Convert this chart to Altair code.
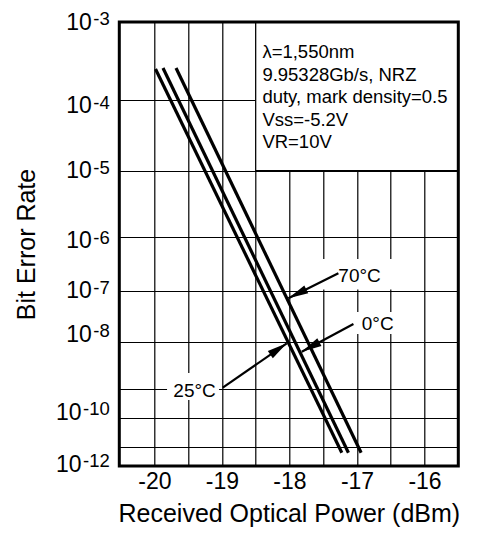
import altair as alt
import pandas as pd

FONT = "Liberation Sans"

# ---------------- data ----------------
# x axis (Received Optical Power, dBm)
x_grid = [-20, -19.5, -19, -18.5, -18, -17.5, -17, -16.5, -16]
x_domain = [-20.52, -15.5]

# y axis: BER = 10^-n ; printed decades and their relative spacing on the printed axis
grid_exp = [3, 4, 5, 6, 7, 8, 9, 10, 11, 12]
grid_share = [0, 77.5, 148.7, 214.7, 268.7, 320.3, 367, 396.3, 425, 444]

# y tick labels (exponent text and where each label sits, in n units)
tick_exp = ["-3", "-4", "-5", "-6", "-7", "-8", "-10", "-12"]
tick_at = [3.103, 4.194, 5.115, 6.215, 7.147, 7.988, 10.059, 12.3]

# BER curves (straight lines on this chart)
series = ["25°C", "0°C", "70°C"]
p_start = [-19.984, -19.873, -19.68]
p_end = [-17.225, -17.127, -16.939]
n_start = [3.606, 3.594, 3.594]
n_end = [11.3, 11.3, 11.3]

# temperature labels and arrows
label_text = ["70°C", "0°C", "25°C"]
label_p = [-17.276, -16.929, -19.72]
label_n = [6.833, 7.762, 9.263]
arrow_p = [-17.276, -17.053, -18.988]
arrow_n = [6.678, 7.645, 8.972]
tip_p = [-18.016, -17.818, -18.04]
tip_n = [7.147, 8.201, 8.021]
tip_angle = [243.4, 241.8, 55.3]
box_p1 = [-17.576, -17.07, -19.813]
box_p2 = [-16.421, -16.406, -19.043]
box_n1 = [6.413, 7.413, 8.657]
box_n2 = [6.98, 7.839, 9.375]

# conditions box
notes = ["λ=1,550nm", "9.95328Gb/s, NRZ", "duty, mark density=0.5", "Vss=-5.2V", "VR=10V"]
notes_p = -18.401
notes_n = 3.465
notes_box = [-18.5, -15.5, 3, 5]

# ---------------- chart ----------------
W, H = 339, 444
PX_PER_DB = W / (x_domain[1] - x_domain[0])

xs = alt.Scale(domain=x_domain, nice=False, zero=False)
ys = alt.Scale(domain=grid_exp, range=[H * s / grid_share[-1] for s in grid_share],
               nice=False, zero=False)

x_axis = alt.Axis(values=x_grid, grid=True, gridColor="black", gridWidth=1.2, gridOpacity=1,
                  ticks=False, domain=False,
                  labelExpr="datum.value % 1 == 0 ? '' + datum.value : ''",
                  labelFontSize=23, labelFont=FONT, labelColor="black", labelPadding=5,
                  title="Received Optical Power (dBm)", titleFontSize=25, titleFont=FONT,
                  titleFontWeight="normal", titleColor="black", titlePadding=8)
y_axis = alt.Axis(values=grid_exp[1:-1], grid=True, gridColor="black", gridWidth=1.2, gridOpacity=1,
                  ticks=False, domain=False, labels=False,
                  title="Bit Error Rate", titleFontSize=25, titleFont=FONT,
                  titleFontWeight="normal", titleColor="black",
                  titleX=-93, titleY=H / 2, titleAngle=270, titleAlign="center",
                  titleBaseline="middle")


def X(f="p"):
    return alt.X(f"{f}:Q", scale=xs, axis=x_axis)


def Y(f="n"):
    return alt.Y(f"{f}:Q", scale=ys, axis=y_axis)


lines_df = pd.DataFrame({
    "series": series * 2,
    "p": p_start + p_end,
    "n": n_start + n_end,
})
lab_df = pd.DataFrame({"t": label_text, "p": label_p, "n": label_n})
arr_df = pd.DataFrame({"p": arrow_p, "n": arrow_n, "p2": tip_p, "n2": tip_n})
tip_df = pd.DataFrame({"p": tip_p, "n": tip_n, "ang": tip_angle})
box_df = pd.DataFrame({"p": box_p1, "p2": box_p2, "n": box_n1, "n2": box_n2})
note_box_df = pd.DataFrame({"p": [notes_box[0]], "p2": [notes_box[1]],
                            "n": [notes_box[2]], "n2": [notes_box[3]]})
notes_df = pd.DataFrame({"t": ["\n".join(notes)], "p": [notes_p], "n": [notes_n]})
frame_df = pd.DataFrame({"p": [x_domain[0]], "p2": [x_domain[1]],
                         "n": [grid_exp[0]], "n2": [grid_exp[-1]]})

EXP_SIZE = 18.5
exp_right = x_domain[0] - 9.5 / PX_PER_DB
exp_w = [(0.333 + 0.556 * (len(e) - 1)) * EXP_SIZE for e in tick_exp]
ytk_df = pd.DataFrame({
    "e": tick_exp,
    "n": tick_at,
    "pe": [exp_right] * len(tick_exp),
    "pb": [exp_right - (w + 1.5) / PX_PER_DB for w in exp_w],
    "b": ["10"] * len(tick_exp),
})

grid_layer = alt.Chart(frame_df).mark_rect(opacity=0).encode(x=X(), x2="p2", y=Y(), y2="n2")

boxes = alt.Chart(box_df).mark_rect(fill="white", strokeWidth=0).encode(
    x=X(), x2="p2", y=Y(), y2="n2")
note_box = alt.Chart(note_box_df).mark_rect(fill="white", stroke="black", strokeWidth=1.2).encode(
    x=X(), x2="p2", y=Y(), y2="n2")

lines = alt.Chart(lines_df).mark_line(color="black", strokeWidth=3.2).encode(
    x=X(), y=Y(), detail="series:N")

arrows = alt.Chart(arr_df).mark_rule(color="black", strokeWidth=2.2).encode(
    x=X(), y=Y(), x2="p2", y2="n2")
heads = alt.Chart(tip_df).mark_point(
    shape="M0,0L-0.22,1L0.22,1Z", filled=True, color="black", size=1600, opacity=1,
    strokeWidth=0).encode(x=X(), y=Y(), angle=alt.Angle("ang:Q", scale=None))

labels = alt.Chart(lab_df).mark_text(
    align="left", baseline="alphabetic", font=FONT, fontSize=19, color="black").encode(
    x=X(), y=Y(), text="t:N")

note_txt = alt.Chart(notes_df).mark_text(
    align="left", baseline="alphabetic", font=FONT, fontSize=18.5, color="black",
    lineBreak="\n", lineHeight=22.5).encode(x=X(), y=Y(), text="t:N")

ten = alt.Chart(ytk_df).mark_text(
    align="right", baseline="alphabetic", font=FONT, fontSize=23, color="black").encode(
    x=alt.X("pb:Q", scale=xs, axis=x_axis), y=Y(), text="b:N")
expo = alt.Chart(ytk_df).mark_text(
    align="right", baseline="alphabetic", font=FONT, fontSize=EXP_SIZE, color="black",
    dy=-4.5).encode(x=alt.X("pe:Q", scale=xs, axis=x_axis), y=Y(), text="e:N")

frame = alt.Chart(frame_df).mark_rect(fill="transparent", stroke="black", strokeWidth=3).encode(
    x=X(), x2="p2", y=Y(), y2="n2")

chart = alt.layer(
    grid_layer, boxes, note_box, lines, arrows, heads, labels, note_txt, ten, expo, frame
).properties(
    width=W, height=H,
    autosize=alt.AutoSizeParams(type="none"),
    padding={"left": 111.3, "top": 14, "right": 10, "bottom": 64},
).configure_view(strokeWidth=0).configure(background="white")

chart.save("out.html", embed_options={"renderer": "svg", "actions": False})
